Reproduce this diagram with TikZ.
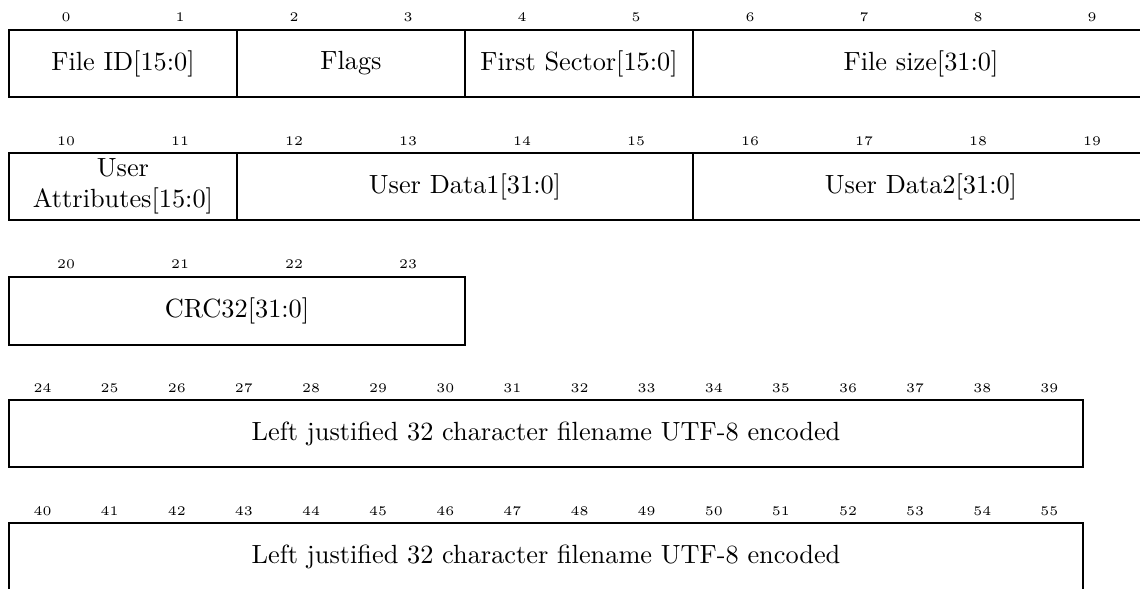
\documentclass[tikz,border=0pt]{standalone}
\begin{document}
\begin{tikzpicture}[x=0.38pt,y=-0.38pt,
  fieldbox/.style={draw=black,line width=0.45pt},
  fieldtext/.style={inner sep=0pt,align=center,font=\normalsize},
  bytenum/.style={inner sep=0pt,font=\tiny}]
\useasboundingbox (0,0) rectangle (1140,588);
\clip (0,0) rectangle (1140,588);
% byte numbers
\foreach \k in {0,...,9}{\node[bytenum] (n\k) at (66+114*\k,17) {\k};}
\foreach \k in {0,...,9}{\pgfmathtruncatemacro\n{10+\k}\node[bytenum] (n\n) at (66+114*\k,141) {\n};}
\foreach \k in {0,...,3}{\pgfmathtruncatemacro\n{20+\k}\node[bytenum] (n\n) at (66+114*\k,264) {\n};}
\foreach \k in {0,...,15}{\pgfmathtruncatemacro\n{24+\k}\node[bytenum] (n\n) at (42.56+67.125*\k,388) {\n};}
\foreach \k in {0,...,15}{\pgfmathtruncatemacro\n{40+\k}\node[bytenum] (n\n) at (42.56+67.125*\k,511) {\n};}
% row 1
\draw[fieldbox] (9,30) rectangle (237,97);
\draw[fieldbox] (237,30) rectangle (465,97);
\draw[fieldbox] (465,30) rectangle (693,97);
\draw[fieldbox] (693,30) rectangle (1149,97);
\node[fieldtext] (fid) at (123,63.5) {File ID[15:0]};
\node[fieldtext] (flags) at (351,63.5) {Flags};
\node[fieldtext] (fsec) at (579,63.5) {First Sector[15:0]};
\node[fieldtext] (fsize) at (921,63.5) {File size[31:0]};
% row 2
\draw[fieldbox] (9,153) rectangle (237,220);
\draw[fieldbox] (237,153) rectangle (693,220);
\draw[fieldbox] (693,153) rectangle (1149,220);
\node[fieldtext] (uattr) at (123,186.5) {User\\Attributes[15:0]};
\node[fieldtext] (ud1) at (465,186.5) {User Data1[31:0]};
\node[fieldtext] (ud2) at (921,186.5) {User Data2[31:0]};
% row 3
\draw[fieldbox] (9,277) rectangle (465,345);
\node[fieldtext] (crc) at (237,311) {CRC32[31:0]};
% row 4
\draw[fieldbox] (9,400) rectangle (1083,467);
\node[fieldtext] (fn1) at (546,433.5) {Left justified 32 character filename UTF-8 encoded};
% row 5
\draw[fieldbox] (9,523) rectangle (1083,590);
\node[fieldtext] (fn2) at (546,556.5) {Left justified 32 character filename UTF-8 encoded};
\end{tikzpicture}
\end{document}
